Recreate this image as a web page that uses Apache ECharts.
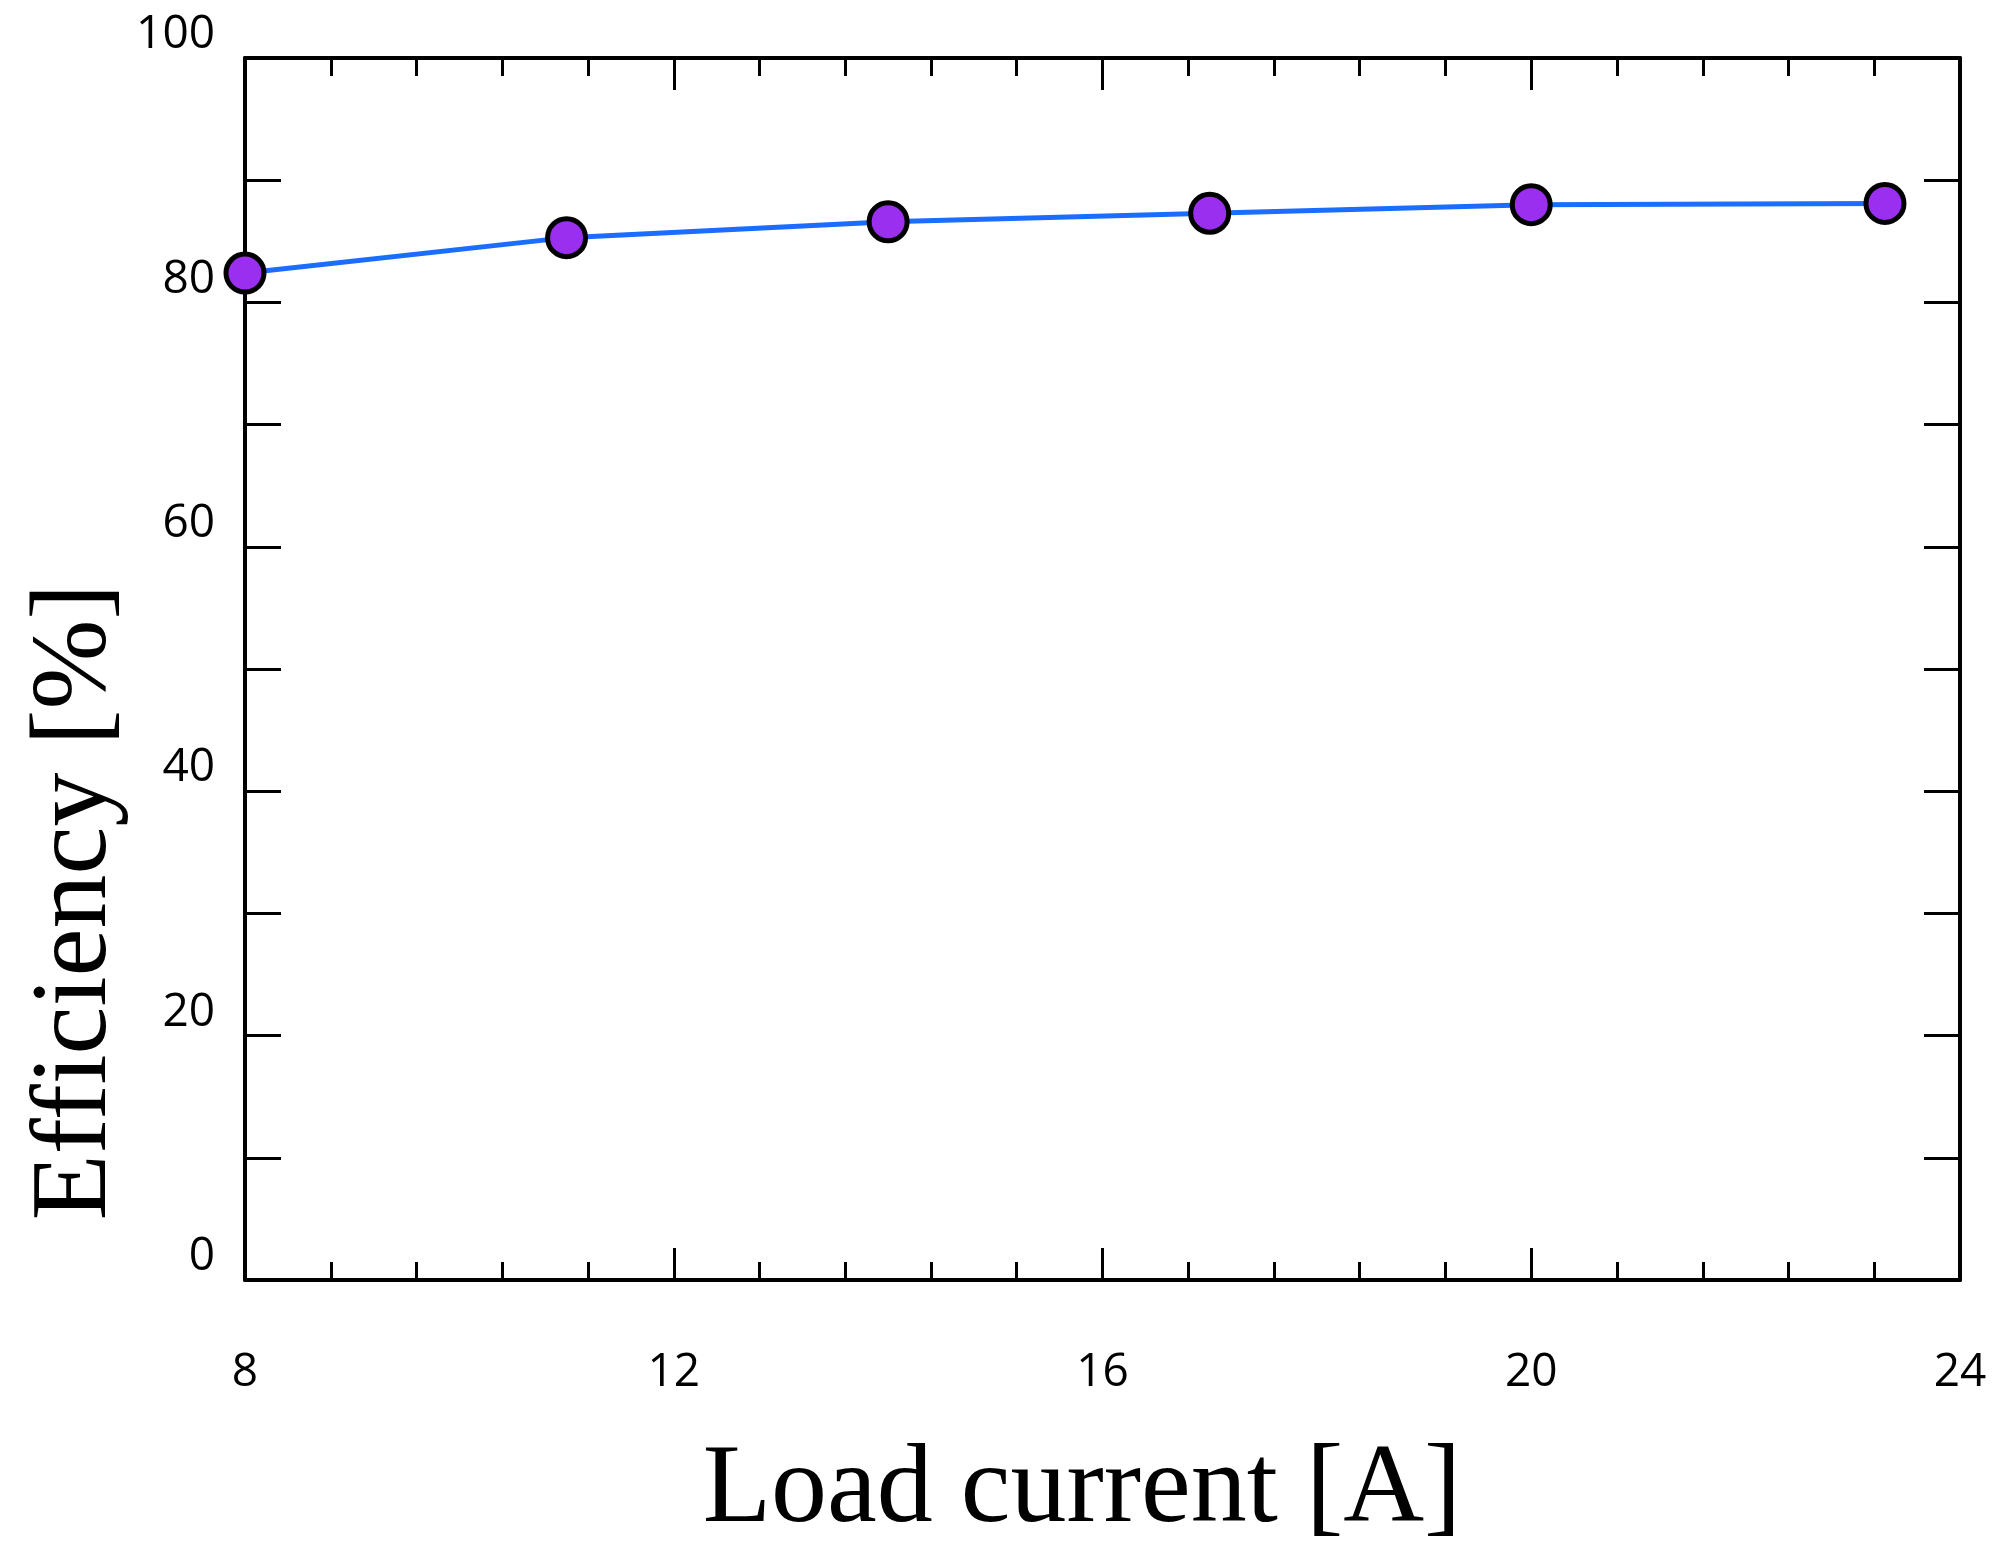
<!DOCTYPE html>
<html><head><meta charset="utf-8">
<script src="https://cdn.jsdelivr.net/npm/echarts@6/dist/echarts.min.js"></script>
<style>html,body{margin:0;padding:0;background:#fff}#chart{width:2010px;height:1551px}</style>
</head><body><div id="chart"></div>
<script>
// load current [A]
var current = [8, 11.0, 14.0, 17.0, 20.0, 23.3];
// efficiency [%]
var efficiency = [82.4, 85.3, 86.6, 87.3, 88.0, 88.1];

var chart = echarts.init(document.getElementById('chart'));
var tickFont = {fontFamily: 'Open Sans', fontSize: 46, color: '#000'};
function xAx(pos, show) {
  return {type: 'value', position: pos, min: 8, max: 24, interval: 4,
    axisLine: {show: true, onZero: false, lineStyle: {color: '#000', width: 4}},
    axisTick: {show: true, inside: true, length: 32, lineStyle: {color: '#000', width: 3}},
    minorTick: {show: true, splitNumber: 5, length: 18, lineStyle: {color: '#000', width: 3}},
    axisLabel: Object.assign({show: show, margin: 70}, tickFont),
    splitLine: {show: false}};
}
function yAx(pos, show) {
  return {type: 'value', position: pos, min: 0, max: 100, interval: 20,
    axisLine: {show: true, onZero: false, lineStyle: {color: '#000', width: 4}},
    axisTick: {show: true, inside: true, length: 36, lineStyle: {color: '#000', width: 3}},
    minorTick: {show: true, splitNumber: 2, length: 36, lineStyle: {color: '#000', width: 3}},
    axisLabel: Object.assign({show: show, margin: 30, verticalAlign: 'bottom'}, tickFont),
    splitLine: {show: false}};
}
var option = {
  animation: false,
  grid: {left: 245, right: 50, top: 58, bottom: 271},
  xAxis: [xAx('bottom', true), xAx('top', false)],
  yAxis: [yAx('left', true), yAx('right', false)],
  graphic: [
    {type: 'text', x: 1082, y: 1492,
      style: {text: 'Load current [A]', font: '112px "Liberation Serif"', fill: '#000',
        align: 'center', verticalAlign: 'middle'}},
    {type: 'text', x: 77, y: 902, rotation: Math.PI / 2,
      style: {text: 'Efficiency [%]', font: '108px "Liberation Serif"', fill: '#000',
        align: 'center', verticalAlign: 'middle'}}
  ],
  series: [{
    type: 'line',
    data: current.map(function (c, i) { return [c, efficiency[i]]; }),
    symbol: 'circle', symbolSize: 38,
    lineStyle: {color: '#1a6dff', width: 5},
    itemStyle: {color: '#9a2ff0', borderColor: '#000', borderWidth: 5}
  }, {
    type: 'line', xAxisIndex: 1, yAxisIndex: 1, data: [], silent: true
  }]
};
chart.setOption(option);
</script></body></html>
